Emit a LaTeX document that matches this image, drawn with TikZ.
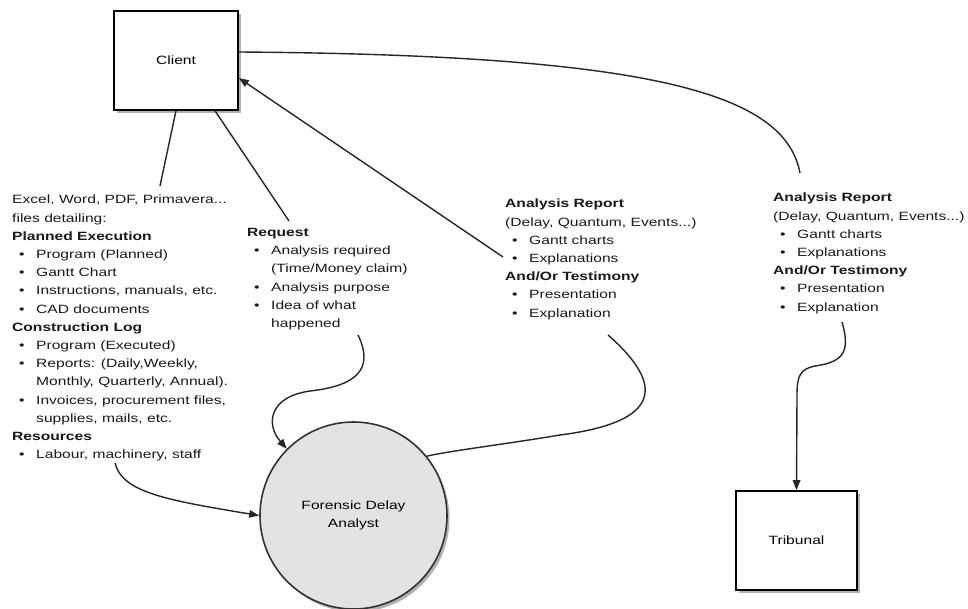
\documentclass[tikz,border=0pt]{standalone}
\usepackage{fontspec}
\setmainfont{Liberation Sans}[FakeStretch=1.3]
\usetikzlibrary{arrows.meta,shadows}
\newcommand\itm[1]{\makebox[24pt][l]{\hspace{7pt}\textbullet}#1}
\newcommand\cnt[1]{\hspace*{24pt}#1}
\tikzset{
  every node/.style={font=\fontsize{12}{18.2}\selectfont},
  box/.style={draw, line width=1.6pt, fill=white, inner sep=0pt,
    drop shadow={shadow xshift=2.5pt, shadow yshift=-3pt, fill=black!50, opacity=0.6}},
  proc/.style={circle, draw, line width=1.6pt, draw=black!80, fill=gray!22, inner sep=0pt, align=center,
    drop shadow={shadow xshift=2.5pt, shadow yshift=-3pt, fill=black!50, opacity=0.6}},
  txt/.style={anchor=north west, align=left, inner sep=0pt, text=black!90},
  link/.style={line width=1.4pt, black!85},
  arr/.style={link, -{Triangle[length=10pt,width=7.5pt]}},
}
\begin{document}
\begin{tikzpicture}[x=1pt,y=-1pt]
\useasboundingbox (0,0) rectangle (968,609);
\fill[white] (0,0) rectangle (968,609);

\node[box, minimum width=124pt, minimum height=99pt] (client) at (176,60.5) {Client};
\node[box, minimum width=121pt, minimum height=99pt] (trib) at (796.5,540.5) {Tribunal};
\node[proc, minimum size=187pt] (fda) at (353.5,515.5) {Forensic Delay\\Analyst};

\node[txt] (files) at (12,195) {Excel, Word, PDF, Primavera...\\
files detailing:\\
\textbf{Planned Execution}\\
\itm{Program (Planned)}\\
\itm{Gantt Chart}\\
\itm{Instructions, manuals, etc.}\\
\itm{CAD documents}\\
\textbf{Construction Log}\\
\itm{Program (Executed)}\\
\itm{Reports: (Daily,Weekly,}\\
\cnt{Monthly, Quarterly, Annual).}\\
\itm{Invoices, procurement files,}\\
\cnt{supplies, mails, etc.}\\
\textbf{Resources}\\
\itm{Labour, machinery, staff}};

\node[txt] (req) at (247,228) {\textbf{Request}\\
\itm{Analysis required}\\
\cnt{(Time/Money claim)}\\
\itm{Analysis purpose}\\
\itm{Idea of what}\\
\cnt{happened}};

\node[txt] (rep1) at (505,199) {\textbf{Analysis Report}\\
(Delay, Quantum, Events...)\\
\itm{Gantt charts}\\
\itm{Explanations}\\
\textbf{And/Or Testimony}\\
\itm{Presentation}\\
\itm{Explanation}};

\node[txt] (rep2) at (773,193) {\textbf{Analysis Report}\\
(Delay, Quantum, Events...)\\
\itm{Gantt charts}\\
\itm{Explanations}\\
\textbf{And/Or Testimony}\\
\itm{Presentation}\\
\itm{Explanation}};

% connector end points
\coordinate (filesTop) at (160,186);
\coordinate (reqTop) at (289,221);
\coordinate (rep1Tail) at (503,257);
\coordinate (rep2Top) at (800,173);
\coordinate (filesBot) at (115,463);
\coordinate (reqBot) at (358,335);
\coordinate (rep1Bot) at (608,335);
\coordinate (rep2Bot) at (842,322);

\draw[link] (client.south) -- (filesTop);
\draw[link] ([xshift=39pt]client.south) -- (reqTop);
\draw[arr] (rep1Tail) -- ([yshift=-17.5pt]client.east);
\draw[link] ([yshift=8.5pt]client.east) .. controls (660,55) and (785,95) .. (rep2Top);

\draw[arr] (filesBot) .. controls (122,492) and (165,500) .. (fda.west);
\draw[arr] (reqBot) .. controls (375,370) and (355,386) .. (310,391)
  .. controls (268,397) and (266,425) .. (fda.north west);
\draw[link] (rep1Bot) .. controls (665,385) and (662,422) .. (560,435)
  .. controls (500,445) and (455,450) .. (fda.39);
\draw[arr] (rep2Bot) .. controls (850,350) and (845,362) .. (815,366)
  .. controls (800,369) and (797,376) .. (797,395) -- (trib.north);
\end{tikzpicture}
\end{document}
